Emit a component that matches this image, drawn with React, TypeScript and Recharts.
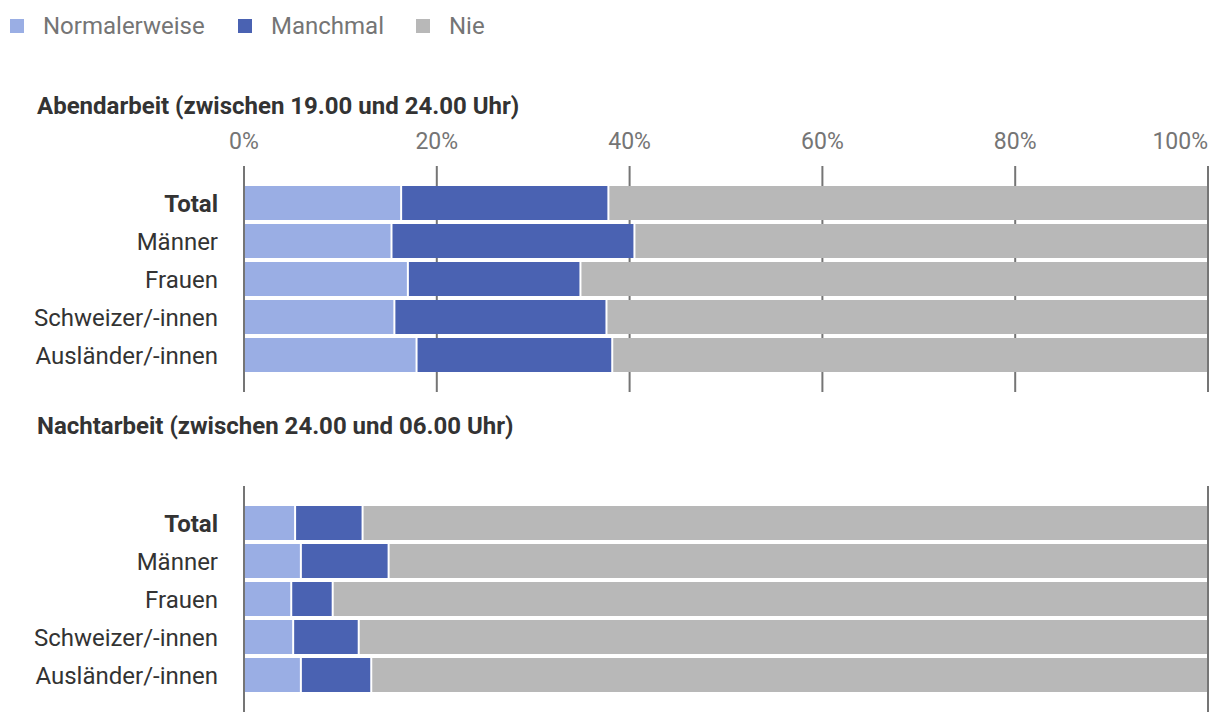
import React from "react";
import { Bar, BarChart, CartesianGrid, XAxis, YAxis } from "recharts";

const categories = ["Total", "Männer", "Frauen", "Schweizer/-innen", "Ausländer/-innen"];
const xTicks = [0, 20, 40, 60, 80, 100];

const abendNormal = [16.3, 15.3, 17.0, 15.6, 17.9];
const abendManchmal = [21.5, 25.2, 17.9, 22.0, 20.3];
const abendNie = [62.2, 59.5, 65.1, 62.4, 61.8];

const nachtNormal = [5.3, 5.9, 4.9, 5.1, 5.9];
const nachtManchmal = [7.0, 9.1, 4.3, 6.8, 7.3];
const nachtNie = [87.7, 85.0, 90.8, 88.1, 86.8];

const COLORS = { normal: "#9aaee4", manchmal: "#4a62b2", nie: "#b8b8b8" };
const GRID = "#757575";
const FONT = "Roboto, 'Noto Sans', sans-serif";

const buildRows = (normal: number[], manchmal: number[], nie: number[]) =>
  categories.map((name, i) => ({
    name,
    Normalerweise: normal[i],
    Manchmal: manchmal[i],
    Nie: nie[i],
  }));

const abendData = buildRows(abendNormal, abendManchmal, abendNie);
const nachtData = buildRows(nachtNormal, nachtManchmal, nachtNie);

// segments get a 2px white gap between them
function GapBar(props: any) {
  const { x, y, width, height, fill } = props;
  if (!width || width <= 0) return null;
  return <rect x={x + 1} y={y} width={Math.max(width - 2, 0)} height={height} fill={fill} />;
}

function CategoryTick({ x, y, payload }: any) {
  const bold = payload.value === "Total";
  return (
    <text
      x={x}
      y={y}
      dy="0.36em"
      textAnchor="end"
      fontFamily={FONT}
      fontSize={24}
      fontWeight={bold ? 700 : 400}
      fill="#333333"
    >
      {payload.value}
    </text>
  );
}

function PercentTick({ x, y, payload }: any) {
  return (
    <text
      x={x}
      y={y}
      textAnchor={payload.value === 100 ? "end" : "middle"}
      fontFamily={FONT}
      fontSize={23}
      fill="#757575"
    >
      {`${payload.value}%`}
    </text>
  );
}

function StackedPanel({ data, showTicks }: { data: any[]; showTicks: boolean }) {
  return (
    <BarChart
      width={1220}
      height={showTicks ? 282 : 226}
      data={data}
      layout="vertical"
      margin={{ top: 0, right: 12, bottom: 0, left: 0 }}
      barSize={34}
    >
      <CartesianGrid stroke={GRID} strokeWidth={2} horizontal={false} />
      <XAxis
        type="number"
        orientation="top"
        domain={[0, 100]}
        ticks={xTicks}
        interval={0}
        axisLine={false}
        tickLine={false}
        tickSize={0}
        tickMargin={17}
        height={showTicks ? 56 : 0}
        tick={showTicks ? <PercentTick /> : false}
      />
      <YAxis
        type="category"
        dataKey="name"
        width={244}
        axisLine={false}
        tickLine={false}
        tickSize={0}
        tickMargin={26}
        padding={{ top: 18, bottom: 18 }}
        tick={<CategoryTick />}
      />
      <Bar dataKey="Normalerweise" stackId="a" fill={COLORS.normal} shape={<GapBar />} isAnimationActive={false} />
      <Bar dataKey="Manchmal" stackId="a" fill={COLORS.manchmal} shape={<GapBar />} isAnimationActive={false} />
      <Bar dataKey="Nie" stackId="a" fill={COLORS.nie} shape={<GapBar />} isAnimationActive={false} />
    </BarChart>
  );
}

const legendItems = [
  { label: "Normalerweise", color: COLORS.normal, left: 10 },
  { label: "Manchmal", color: COLORS.manchmal, left: 238 },
  { label: "Nie", color: COLORS.nie, left: 416 },
];

const titleStyle: React.CSSProperties = {
  position: "absolute",
  left: 37,
  fontFamily: FONT,
  fontSize: 24,
  fontWeight: 700,
  color: "#333333",
  whiteSpace: "nowrap",
  lineHeight: "28px",
};

export default function App() {
  return (
    <div style={{ position: "absolute", left: 0, top: 0, width: 1220, height: 724, background: "#fff" }}>
      {legendItems.map((item) => (
        <div
          key={item.label}
          style={{ position: "absolute", left: item.left, top: 12, display: "flex", alignItems: "center", height: 28 }}
        >
          <span style={{ width: 14, height: 14, background: item.color, display: "inline-block" }} />
          <span style={{ marginLeft: 19, fontFamily: FONT, fontSize: 24, color: "#757575" }}>{item.label}</span>
        </div>
      ))}

      <div style={{ ...titleStyle, top: 92 }}>Abendarbeit (zwischen 19.00 und 24.00 Uhr)</div>
      <div style={{ position: "absolute", left: 0, top: 110 }}>
        <StackedPanel data={abendData} showTicks />
      </div>

      <div style={{ ...titleStyle, top: 412 }}>Nachtarbeit (zwischen 24.00 und 06.00 Uhr)</div>
      <div style={{ position: "absolute", left: 0, top: 486 }}>
        <StackedPanel data={nachtData} showTicks={false} />
      </div>
    </div>
  );
}
